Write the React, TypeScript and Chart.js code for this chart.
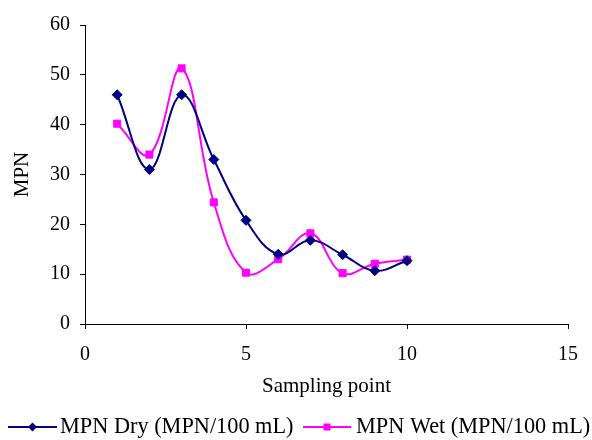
import { useEffect, useRef } from "react";
import { Chart, registerables } from "chart.js";

Chart.register(...registerables);

const samplingPoints = [1, 2, 3, 4, 5, 6, 7, 8, 9, 10];
const mpnDry = [46, 31, 46, 33, 20.8, 14, 16.8, 13.9, 10.7, 12.7];
const mpnWet = [40.2, 34, 51.3, 24.4, 10.3, 13, 18.2, 10.2, 12.1, 12.9];
const seriesNames = ["MPN Dry (MPN/100 mL)", "MPN Wet (MPN/100 mL)"];
const seriesColors = ["#000080", "#FF00FF"];
const xTitle = "Sampling point";
const yTitle = "MPN";

const FONT = '"Liberation Serif", "Times New Roman", serif';

const overlayPlugin = {
  id: "overlay",
  afterDraw(chart: any) {
    const ctx = chart.ctx as CanvasRenderingContext2D;
    const area = chart.chartArea;
    ctx.save();
    ctx.fillStyle = "#000";
    ctx.font = `21px ${FONT}`;
    // x title
    ctx.textAlign = "center";
    ctx.textBaseline = "alphabetic";
    ctx.fillText(xTitle, (area.left + area.right) / 2, 392);
    // y title
    ctx.save();
    ctx.translate(28, (area.top + area.bottom) / 2);
    ctx.rotate(-Math.PI / 2);
    ctx.textAlign = "center";
    ctx.textBaseline = "alphabetic";
    ctx.fillText(yTitle, 0, 0);
    ctx.restore();

    // legend
    ctx.font = `22.3px ${FONT}`;
    const items = [
      { x0: 8, x1: 57, tx: 60, style: "diamond" },
      { x0: 303, x1: 351, tx: 356, style: "square" },
    ];
    const ly = 427;
    items.forEach((it, i) => {
      const c = seriesColors[i];
      ctx.strokeStyle = c;
      ctx.fillStyle = c;
      ctx.lineWidth = 2;
      ctx.beginPath();
      ctx.moveTo(it.x0, ly);
      ctx.lineTo(it.x1, ly);
      ctx.stroke();
      const cx = (it.x0 + it.x1) / 2;
      ctx.beginPath();
      if (it.style === "diamond") {
        ctx.moveTo(cx - 4.5, ly);
        ctx.lineTo(cx, ly - 4.5);
        ctx.lineTo(cx + 4.5, ly);
        ctx.lineTo(cx, ly + 4.5);
        ctx.closePath();
      } else {
        ctx.rect(cx - 3.5, ly - 3.5, 7, 7);
      }
      ctx.fill();
      ctx.fillStyle = "#000";
      ctx.textAlign = "left";
      ctx.textBaseline = "alphabetic";
      ctx.fillText(seriesNames[i], it.tx, 433);
    });
    ctx.restore();
  },
};

export default function App() {
  const ref = useRef<HTMLCanvasElement>(null);
  useEffect(() => {
    if (!ref.current) return;
    const chart = new Chart(ref.current, {
      type: "line",
      data: {
        datasets: [
          {
            label: seriesNames[0],
            data: samplingPoints.map((x, i) => ({ x, y: mpnDry[i] })),
            borderColor: seriesColors[0],
            backgroundColor: seriesColors[0],
            borderWidth: 2,
            tension: 0.4,
            pointStyle: "rectRot",
            pointRadius: 5,
            pointBorderWidth: 1,
            fill: false,
          },
          {
            label: seriesNames[1],
            data: samplingPoints.map((x, i) => ({ x, y: mpnWet[i] })),
            borderColor: seriesColors[1],
            backgroundColor: seriesColors[1],
            borderWidth: 2,
            tension: 0.4,
            pointStyle: "rect",
            pointRadius: 5,
            pointBorderWidth: 1,
            fill: false,
          },
        ],
      },
      options: {
        animation: false,
        responsive: false,
        devicePixelRatio: 1,
        layout: { padding: { top: 25, right: 23, left: 0, bottom: 0 } },
        plugins: {
          legend: { display: false },
          tooltip: { enabled: false },
        },
        scales: {
          x: {
            type: "linear",
            min: 0,
            max: 15,
            ticks: {
              stepSize: 5,
              color: "#000",
              font: { family: FONT, size: 20 },
              padding: 14,
              maxRotation: 0,
            },
            grid: {
              drawOnChartArea: false,
              drawTicks: true,
              tickLength: 5,
              color: "#000",
            },
            border: { display: true, color: "#000", width: 1 },
            afterFit: (s: any) => {
              s.height = 116;
            },
          },
          y: {
            type: "linear",
            min: 0,
            max: 60,
            ticks: {
              stepSize: 10,
              color: "#000",
              font: { family: FONT, size: 20 },
              padding: 10,
            },
            grid: {
              drawOnChartArea: false,
              drawTicks: true,
              tickLength: 5,
              color: "#000",
            },
            border: { display: true, color: "#000", width: 1 },
            afterFit: (s: any) => {
              s.width = 85;
            },
          },
        },
      },
      plugins: [overlayPlugin],
    });
    return () => chart.destroy();
  }, []);
  return (
    <div style={{ position: "absolute", left: 0, top: 0, width: 592, height: 440, background: "#fff" }}>
      <canvas ref={ref} width={592} height={440} />
    </div>
  );
}
